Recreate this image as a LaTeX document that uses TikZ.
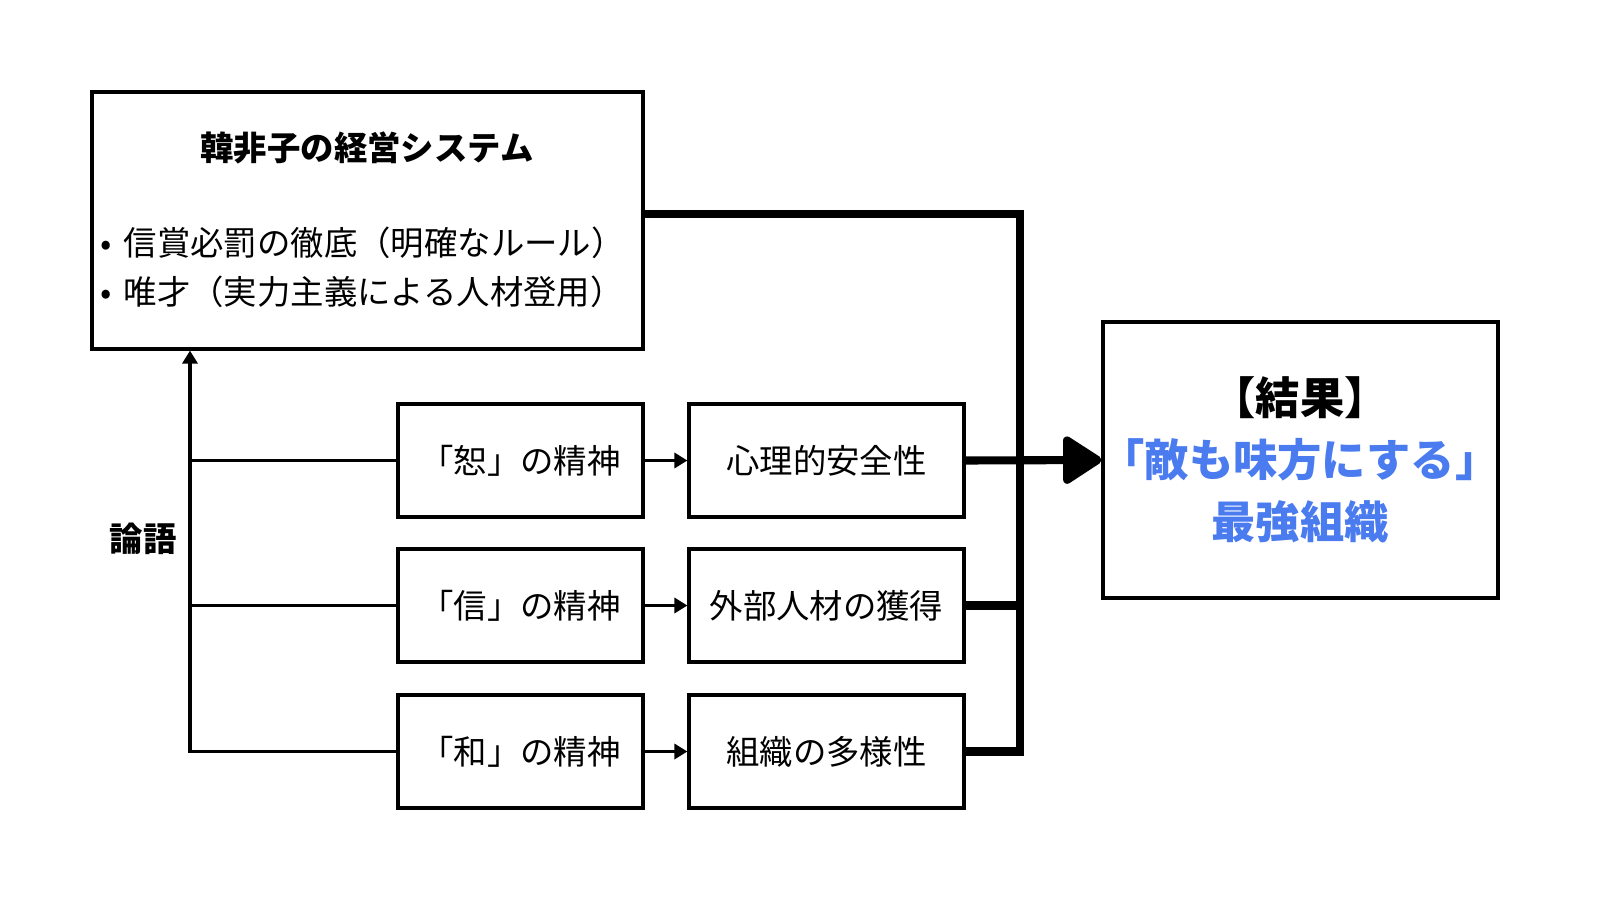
\documentclass[tikz,border=0pt]{standalone}
\usepackage{fontspec}
\setmainfont{Noto Sans CJK JP}
\usetikzlibrary{arrows.meta}

\definecolor{resblue}{HTML}{4A7BEF}

\begin{document}
\begin{tikzpicture}[
  box/.style={draw, line width=0.9pt, inner sep=0pt},
  txt/.style={font=\fontsize{9.5}{11.5}\selectfont},
  big/.style={font=\fontsize{12.6}{17.6}\selectfont\bfseries},
  conn/.style={line width=1pt},
  thickline/.style={line width=2.3pt},
]
 \useasboundingbox (0,0) rectangle (16,9);

 % system box
 \node[box, minimum width=5.51cm, minimum height=2.57cm] (sys) at (3.675,6.795) {};
 \node[txt, font=\fontsize{9.5}{11.5}\selectfont\bfseries] (title) at (3.67,7.52) {韓非子の経営システム};
 \node[txt, anchor=west, inner sep=0pt] (pt1) at (1.00,6.57) {•\hspace{0.35em}信賞必罰の徹底（明確なルール）};
 \node[txt, anchor=west, inner sep=0pt] (pt2) at (1.00,6.08) {•\hspace{0.35em}唯才（実力主義による人材登用）};

 % spirits and effects
 \node[box, txt, minimum width=2.45cm, minimum height=1.13cm] (shu) at (5.205,4.395) {「恕」の精神};
 \node[box, txt, minimum width=2.45cm, minimum height=1.13cm] (shin) at (5.205,2.945) {「信」の精神};
 \node[box, txt, minimum width=2.45cm, minimum height=1.13cm] (wa) at (5.205,1.485) {「和」の精神};
 \node[box, txt, minimum width=2.75cm, minimum height=1.13cm] (psy) at (8.265,4.395) {心理的安全性};
 \node[box, txt, minimum width=2.75cm, minimum height=1.13cm] (ext) at (8.265,2.945) {外部人材の獲得};
 \node[box, txt, minimum width=2.75cm, minimum height=1.13cm] (div) at (8.265,1.485) {組織の多様性};

 % result
 \node[box, minimum width=3.95cm, minimum height=2.76cm] (res) at (13.005,4.40) {};
 \node[big, align=center] (restxt) at (13.0,4.40) {【結果】\\ \textcolor{resblue}{「敵も味方にする」}\\ \textcolor{resblue}{最強組織}};

 \node[font=\fontsize{9.5}{11.5}\selectfont\bfseries] (lunyu) at (1.43,3.61) {論語};

 \path (1.90,1.485) coordinate (spine);
 \path (10.20,6.86) coordinate (jtop);

 % analects feed
 \draw[conn, -{Triangle[length=0.13cm, width=0.15cm]}] (wa.west) -| (sys.south -| spine);
 \draw[conn] (shu.west) -- (shu.west -| spine);
 \draw[conn] (shin.west) -- (shin.west -| spine);

 \foreach \a/\b in {shu/psy, shin/ext, wa/div}
 {
    \draw[conn, -{Triangle[length=0.13cm, width=0.15cm]}] (\a.east) -- (\b.west);
 }

 % merge into result
 \draw[thickline] (sys.east |- jtop) -| (jtop |- div.east) -- (div.east);
 \draw[thickline] (ext.east) -- (ext.east -| jtop);
 \draw[thickline, -{Triangle[length=0.42cm, width=0.52cm, round]}] (psy.east) -- (res.west);

\end{tikzpicture}
\end{document}
